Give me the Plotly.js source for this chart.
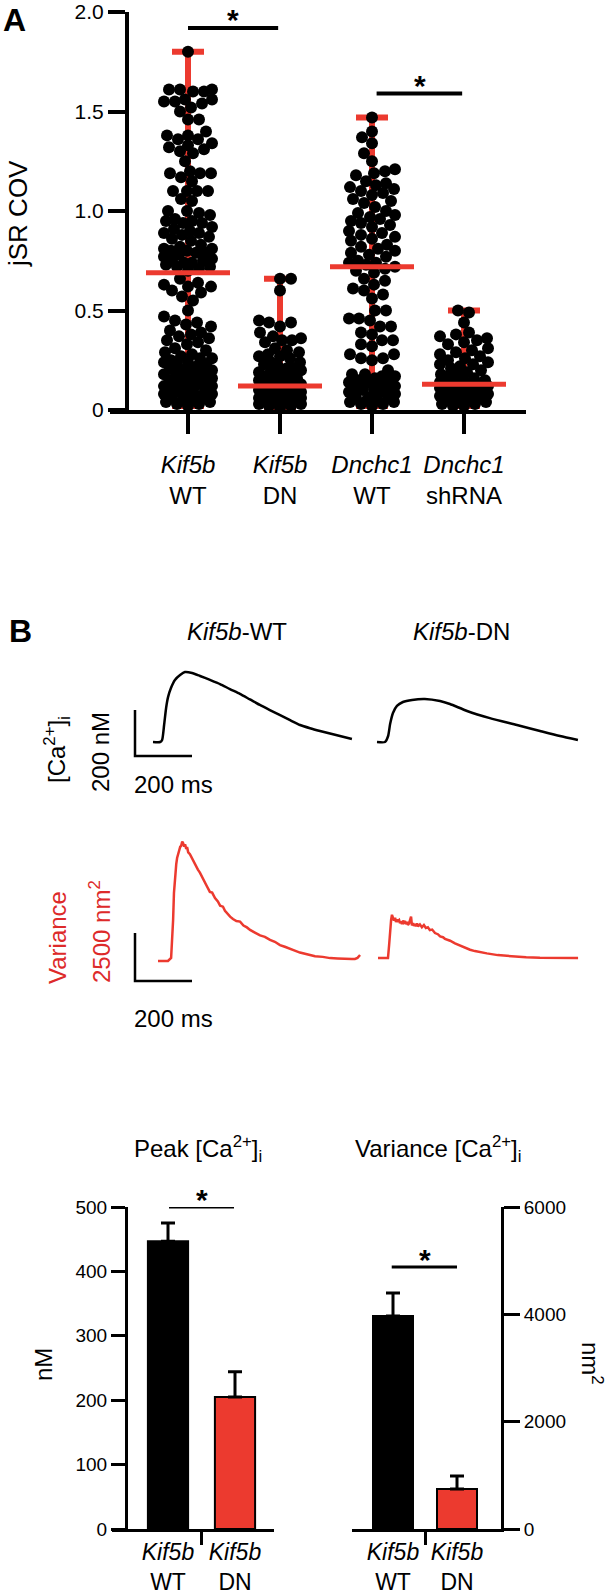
<!DOCTYPE html>
<html>
<head>
<meta charset="utf-8">
<script src="https://cdn.plot.ly/plotly-3.0.1.min.js"></script>
<style>
  html, body { margin: 0; padding: 0; background: #fff; }
  #fig { width: 608px; height: 1596px; }
</style>
</head>
<body>
<div id="fig"></div>
<script>
// ---------- data ----------

// panel A: jSR COV, one value per cell
var groupLabels = ['<i>Kif5b</i><br>WT', '<i>Kif5b</i><br>DN', '<i>Dnchc1</i><br>WT', '<i>Dnchc1</i><br>shRNA'];

var kif5bWT = [1.80,
  1.61, 1.61, 1.60, 1.60, 1.61,
  1.56, 1.55, 1.55, 1.56, 1.54, 1.52, 1.50,
  1.46, 1.46,
  1.40, 1.38, 1.38, 1.36, 1.36, 1.34, 1.33, 1.32, 1.31, 1.30, 1.29,
  1.25, 1.20, 1.19, 1.19, 1.19, 1.17, 1.15,
  1.10, 1.10, 1.10, 1.10, 1.06,
  1.05, 1.00, 1.00, 0.99, 0.98, 0.96, 0.95, 0.95, 0.94, 0.94,
  0.92, 0.91, 0.90, 0.89, 0.89, 0.88, 0.87, 0.86, 0.85,
  0.83, 0.82, 0.81, 0.81, 0.80, 0.80, 0.79, 0.79, 0.78, 0.77,
  0.76, 0.75, 0.75, 0.74, 0.74, 0.73, 0.72, 0.72, 0.71, 0.70,
  0.66, 0.64, 0.63, 0.62, 0.62, 0.60, 0.59, 0.57, 0.55,
  0.50, 0.47, 0.45, 0.44, 0.43, 0.42,
  0.40, 0.39, 0.38, 0.37, 0.36, 0.35, 0.34, 0.33, 0.31, 0.30, 0.29, 0.28,
  0.27, 0.26, 0.26, 0.25, 0.24, 0.24, 0.23, 0.23, 0.22, 0.21, 0.20, 0.20,
  0.19, 0.19, 0.18, 0.18, 0.17, 0.16, 0.16, 0.15, 0.15, 0.14, 0.14, 0.13,
  0.12, 0.12, 0.11, 0.10, 0.10, 0.09, 0.09, 0.08, 0.08, 0.07, 0.07, 0.06,
  0.06, 0.05, 0.05, 0.04, 0.04, 0.03, 0.03, 0.02];

var kif5bDN = [0.66, 0.66, 0.60,
  0.45, 0.44, 0.44, 0.42,
  0.39, 0.37, 0.36, 0.35, 0.35, 0.34,
  0.31, 0.30, 0.29, 0.28, 0.27, 0.27, 0.26,
  0.24, 0.24, 0.23, 0.22, 0.21, 0.21, 0.20, 0.20, 0.19,
  0.18, 0.17, 0.17, 0.16, 0.16, 0.15, 0.15, 0.14, 0.14, 0.13, 0.13,
  0.12, 0.12, 0.12, 0.11, 0.11, 0.10, 0.10, 0.10, 0.09, 0.09, 0.08,
  0.08, 0.08, 0.07, 0.07, 0.06, 0.06, 0.06, 0.05, 0.05, 0.04, 0.04,
  0.03, 0.03, 0.02, 0.02, 0.01];

var dnchc1WT = [1.47, 1.40, 1.37, 1.34, 1.29, 1.25,
  1.21, 1.20, 1.19, 1.18,
  1.15, 1.14, 1.13, 1.12, 1.11, 1.10,
  1.09, 1.08, 1.06, 1.05, 1.04, 1.02,
  1.00, 0.99, 0.98, 0.97, 0.96, 0.95, 0.94, 0.93, 0.92,
  0.90, 0.89, 0.88, 0.87, 0.86, 0.85,
  0.83, 0.82, 0.81, 0.80, 0.79, 0.78, 0.77,
  0.75, 0.74, 0.74, 0.73, 0.72, 0.71, 0.70, 0.69,
  0.66, 0.65, 0.63, 0.61, 0.60, 0.58, 0.56,
  0.50, 0.50, 0.46, 0.46, 0.45,
  0.42, 0.42, 0.39, 0.38, 0.35, 0.35,
  0.33, 0.32, 0.28, 0.28, 0.26, 0.26, 0.25,
  0.20, 0.18, 0.18, 0.17, 0.17, 0.16, 0.15, 0.15, 0.14, 0.14, 0.13,
  0.12, 0.11, 0.11, 0.10, 0.10, 0.09, 0.09, 0.08, 0.07, 0.06, 0.06,
  0.05, 0.05, 0.04, 0.04, 0.03, 0.03, 0.02];

var dnchc1SH = [0.50, 0.49, 0.44,
  0.39, 0.38, 0.37, 0.36, 0.35, 0.34, 0.33,
  0.31, 0.30, 0.29, 0.28, 0.27, 0.26,
  0.25, 0.24, 0.23, 0.23, 0.22, 0.21,
  0.20, 0.19, 0.18, 0.18, 0.17, 0.16, 0.15, 0.15,
  0.14, 0.14, 0.13, 0.13, 0.13, 0.12, 0.12, 0.12, 0.11, 0.11, 0.10,
  0.10, 0.09, 0.09, 0.08, 0.08, 0.07, 0.07,
  0.06, 0.06, 0.05, 0.05, 0.04, 0.04, 0.03, 0.03, 0.02, 0.02];

var medians = [0.69, 0.12, 0.72, 0.13];
var rangeHigh = [1.80, 0.66, 1.47, 0.50];
var rangeLow = [0.02, 0.01, 0.02, 0.02];

// panel B traces: time (ms) and [Ca2+]i rise (nM) / variance (nm^2)
var caWT_t = [0, 25, 32, 39, 46, 53, 63, 77, 95, 112, 137, 165, 200, 235, 270, 305, 340, 375, 410, 446, 481, 516, 551, 586, 621, 656, 698];
var caWT_v = [0, 0, 9, 74, 148, 196, 235, 270, 291, 304, 300, 287, 270, 252, 230, 209, 185, 161, 139, 117, 95, 74, 60, 48, 37, 26, 13];

var caDN_t = [0, 28, 39, 46, 56, 70, 91, 123, 168, 221, 256, 316, 396, 491, 572, 642, 705];
var caDN_v = [0, 0, 26, 78, 126, 157, 174, 183, 187, 178, 165, 135, 104, 74, 48, 26, 9];

var varWT_t = [0, 35, 46, 49, 53, 56, 60, 64, 67, 71, 74, 78, 81, 85, 88, 92, 95, 99, 102, 106,
  112, 118, 123, 128, 133, 140, 147, 154, 160, 165, 172, 182, 190, 200, 210, 218, 228, 235, 245, 253,
  263, 275, 288, 300, 312, 323, 340, 358, 375, 393, 410, 428, 445, 463, 480, 498, 525, 551, 578, 604,
  630, 656, 680, 691, 700, 709];
var varWT_v = [0, 0, 156, 833, 2135, 3541, 4635, 5050, 5364, 5600, 5781, 5950, 5989, 6220, 6145, 5960, 6080, 5840, 5930, 5660,
  5560, 5380, 5300, 5080, 5000, 4760, 4600, 4380, 4250, 4100, 3880, 3600, 3560, 3280, 3100, 2880, 2830, 2620, 2440, 2310,
  2190, 2080, 2050, 1850, 1750, 1620, 1480, 1330, 1260, 1100, 1000, 830, 740, 620, 540, 440, 330, 250, 215, 150,
  130, 100, 100, 104, 160, 312];

var varDN_t = [0, 35, 39, 42, 46, 49, 53, 56, 60, 63, 67, 70, 74, 77, 81, 84, 88, 91, 95, 98,
  102, 105, 109, 112, 116, 119, 123, 126, 130, 133, 137, 140, 147, 154, 161, 168, 175, 182, 190, 200,
  210, 218, 228, 235, 245, 253, 270, 288, 305, 323, 340, 358, 382, 420, 470, 520, 568, 620, 660, 702];
var varDN_v = [0, 0, 677, 1562, 1979, 2250, 2083, 1950, 2100, 1875, 2000, 1930, 1979, 1820, 1900, 1771, 1950, 1850, 1927, 1760,
  1880, 1719, 1800, 1927, 2150, 1700, 1820, 1667, 1771, 1650, 1800, 1640, 1750, 1600, 1720, 1560, 1600, 1450, 1480, 1300,
  1240, 1120, 1080, 1000, 960, 900, 760, 640, 540, 430, 360, 300, 240, 150, 80, 40, 10, 0, 0, 0];

// panel B bars: mean and SEM
var barLabels = ['<i>Kif5b</i><br>WT', '<i>Kif5b</i><br>DN'];
var peakMean = [447, 205];
var peakSem = [28, 39];
var varMean = [3969, 745];
var varSem = [429, 243];

// ---------- helpers ----------
var W = 608, H = 1596;
var RED = '#ec3a2f';
var FONT = 'Liberation Sans, Arial, Helvetica, sans-serif';

function domX(a, b) { return [a / W, b / W]; }
function domY(top, bottom) { return [1 - bottom / H, 1 - top / H]; }

function note(text, px, py, size, extra) {
  var a = {xref: 'paper', yref: 'paper', x: px / W, y: 1 - py / H, text: text,
    showarrow: false, xanchor: 'center', yanchor: 'middle',
    font: {family: FONT, size: size, color: 'black'}};
  for (var k in extra) a[k] = extra[k];
  return a;
}

// beeswarm: pixel offsets so that dots don't pile on each other (capped width)
function swarm(vals, pxPerUnit, dot, maxHalf) {
  var idx = vals.map(function(v, i) { return i; });
  idx.sort(function(a, b) { return vals[a] - vals[b]; });
  var placed = [];
  var offs = new Array(vals.length).fill(0);
  var flip = 1;
  idx.forEach(function(i) {
    var y = vals[i] * pxPerUnit;
    var near = placed.filter(function(p) { return Math.abs(p[1] - y) < dot; });
    var best = 0, bestGap = -1, done = false;
    for (var s = 0; s <= maxHalf && !done; s++) {
      var cands = s === 0 ? [0] : [s * flip, -s * flip];
      for (var c = 0; c < cands.length; c++) {
        var gap = Infinity;
        for (var j = 0; j < near.length; j++) {
          var d = Math.hypot(near[j][0] - cands[c], near[j][1] - y);
          if (d < gap) gap = d;
        }
        if (gap >= dot) { best = cands[c]; done = true; break; }
        if (gap > bestGap) { bestGap = gap; best = cands[c]; }
      }
    }
    offs[i] = best;
    placed.push([best, y]);
    flip = -flip;
  });
  return offs;
}

// ---------- panel A ----------
var catPx = 92;   // px per category step
var yPx = 199;    // px per COV unit
var groups = [kif5bWT, kif5bDN, dnchc1WT, dnchc1SH];
var halfW = [24, 21, 23, 24];

var data = [];

data.push({
  type: 'scatter', mode: 'markers', x: [0, 1, 2, 3], y: medians,
  marker: {size: 1, color: 'rgba(0,0,0,0)'},
  error_y: {type: 'data', symmetric: false,
    array: rangeHigh.map(function(h, i) { return h - medians[i]; }),
    arrayminus: rangeLow.map(function(l, i) { return medians[i] - l; }),
    color: RED, thickness: 6, width: 16},
  cliponaxis: false, hoverinfo: 'skip', xaxis: 'x', yaxis: 'y'
});

groups.forEach(function(g, gi) {
  var offs = swarm(g, yPx, 11, halfW[gi]);
  data.push({
    type: 'scatter', mode: 'markers',
    x: g.map(function(v, i) { return gi + offs[i] / catPx; }), y: g,
    marker: {size: 12, color: 'black'},
    cliponaxis: false, xaxis: 'x', yaxis: 'y'
  });
});

data.push({
  type: 'scatter', mode: 'markers', x: [0, 1, 2, 3], y: medians,
  marker: {symbol: 'line-ew', size: 60, line: {width: 5, color: RED}},
  cliponaxis: false, xaxis: 'x', yaxis: 'y'
});

// ---------- panel B traces ----------
var msPx = 57 / 200;      // px per ms
var nMPx = 46 / 200;      // px per nM
var nm2Px = 48 / 2500;    // px per nm^2

data.push({type: 'scatter', mode: 'lines', x: caWT_t, y: caWT_v, xaxis: 'x2', yaxis: 'y2',
  line: {color: 'black', width: 2.5, shape: 'spline', smoothing: 0.6}});
data.push({type: 'scatter', mode: 'lines', x: caDN_t, y: caDN_v, xaxis: 'x3', yaxis: 'y3',
  line: {color: 'black', width: 2.5, shape: 'spline', smoothing: 0.6}});
data.push({type: 'scatter', mode: 'lines', x: varWT_t, y: varWT_v, xaxis: 'x4', yaxis: 'y4',
  line: {color: RED, width: 2.5}});
data.push({type: 'scatter', mode: 'lines', x: varDN_t, y: varDN_v, xaxis: 'x5', yaxis: 'y5',
  line: {color: RED, width: 2.5}});

// scale bars: 200 ms x 200 nM, 200 ms x 2500 nm^2
var caBarT = -18 / msPx, caBarV = -14 / nMPx;
data.push({type: 'scatter', mode: 'lines', xaxis: 'x2', yaxis: 'y2',
  x: [caBarT, caBarT, caBarT + 200], y: [caBarV + 200, caBarV, caBarV],
  line: {color: 'black', width: 2.5}, cliponaxis: false});
var vaBarT = -23 / msPx, vaBarV = -20 / nm2Px;
data.push({type: 'scatter', mode: 'lines', xaxis: 'x4', yaxis: 'y4',
  x: [vaBarT, vaBarT, vaBarT + 200], y: [vaBarV + 2500, vaBarV, vaBarV],
  line: {color: 'black', width: 2.5}, cliponaxis: false});

// ---------- panel B bars ----------
data.push({type: 'bar', x: [0, 1], y: peakMean, width: 0.6, xaxis: 'x6', yaxis: 'y6',
  marker: {color: ['black', RED], line: {color: 'black', width: 2}},
  error_y: {type: 'data', symmetric: false, array: peakSem, arrayminus: [0, 0],
    color: 'black', thickness: 3, width: 7}});
data.push({type: 'bar', x: [0, 1], y: varMean, width: 0.625, xaxis: 'x7', yaxis: 'y7',
  marker: {color: ['black', RED], line: {color: 'black', width: 2}},
  error_y: {type: 'data', symmetric: false, array: varSem, arrayminus: [0, 0],
    color: 'black', thickness: 3, width: 7}});

function hidden(dom, rng, anchor) {
  return {domain: dom, range: rng, anchor: anchor, visible: false, fixedrange: true};
}

var tickF = function(s) { return {family: FONT, size: s, color: 'black'}; };

var layout = {
  width: W, height: H, showlegend: false,
  margin: {l: 0, r: 0, t: 0, b: 0},
  paper_bgcolor: 'white', plot_bgcolor: 'rgba(0,0,0,0)',
  font: {family: FONT, color: 'black'},

  xaxis: {domain: domX(110, 526), range: [-(188 - 110) / catPx, (526 - 188) / catPx], anchor: 'y',
    showline: true, linewidth: 4, linecolor: 'black', showgrid: false, zeroline: false,
    tickmode: 'array', tickvals: [0, 1, 2, 3], ticktext: groupLabels, ticklabelstandoff: 10,
    ticks: 'outside', ticklen: 20, tickwidth: 4, tickcolor: 'black', tickfont: tickF(24)},
  yaxis: {domain: domY(12, 410), range: [0, 2], anchor: 'free', position: 127 / W,
    showline: true, linewidth: 4, linecolor: 'black', showgrid: false, zeroline: false,
    tickmode: 'array', tickvals: [0, 0.5, 1, 1.5, 2], ticktext: ['0', '0.5', '1.0', '1.5', '2.0'],
    ticks: 'outside', ticklen: 17, tickwidth: 4, tickcolor: 'black', tickfont: tickF(21)},

  xaxis2: hidden(domX(130, 356), [-(153 - 130) / msPx, (356 - 153) / msPx], 'y2'),
  yaxis2: hidden(domY(660, 800), [(742 - 800) / nMPx, (742 - 660) / nMPx], 'x2'),
  xaxis3: hidden(domX(370, 585), [-(377 - 370) / msPx, (585 - 377) / msPx], 'y3'),
  yaxis3: hidden(domY(660, 800), [(742 - 800) / nMPx, (742 - 660) / nMPx], 'x3'),
  xaxis4: hidden(domX(130, 365), [-(158 - 130) / msPx, (365 - 158) / msPx], 'y4'),
  yaxis4: hidden(domY(830, 1000), [(961 - 1000) / nm2Px, (961 - 830) / nm2Px], 'x4'),
  xaxis5: hidden(domX(370, 585), [-(378 - 370) / msPx, (585 - 378) / msPx], 'y5'),
  yaxis5: hidden(domY(830, 1000), [(958 - 1000) / nm2Px, (958 - 830) / nm2Px], 'x5'),

  xaxis6: {domain: domX(112, 274), range: [-(168 - 112) / 67, (274 - 168) / 67], anchor: 'y6',
    showline: true, linewidth: 3, linecolor: 'black', showgrid: false, zeroline: false,
    tickmode: 'array', tickvals: [0, 1], ticktext: barLabels, ticks: '', tickfont: tickF(23),
    minor: {tickmode: 'array', tickvals: [0.5], ticks: 'outside', ticklen: 13, tickwidth: 3, tickcolor: 'black', showgrid: false}},
  yaxis6: {domain: domY(1207, 1529), range: [0, 500], anchor: 'free', position: 126 / W,
    showline: true, linewidth: 3, linecolor: 'black', showgrid: false, zeroline: false,
    tickmode: 'array', tickvals: [0, 100, 200, 300, 400, 500],
    ticks: 'outside', ticklen: 14, tickwidth: 3, tickcolor: 'black', tickfont: tickF(19)},

  xaxis7: {domain: domX(352, 501), range: [-(393 - 352) / 64, (501 - 393) / 64], anchor: 'y7',
    showline: true, linewidth: 3, linecolor: 'black', showgrid: false, zeroline: false,
    tickmode: 'array', tickvals: [0, 1], ticktext: barLabels, ticks: '', tickfont: tickF(23),
    minor: {tickmode: 'array', tickvals: [0.5], ticks: 'outside', ticklen: 13, tickwidth: 3, tickcolor: 'black', showgrid: false}},
  yaxis7: {domain: domY(1207, 1529), range: [0, 6000], anchor: 'x7', side: 'right',
    showline: true, linewidth: 3, linecolor: 'black', showgrid: false, zeroline: false,
    tickmode: 'array', tickvals: [0, 2000, 4000, 6000],
    ticks: 'outside', ticklen: 16, tickwidth: 3, tickcolor: 'black', tickfont: tickF(19)},

  shapes: [
    {type: 'line', xref: 'x', yref: 'y', x0: 0, x1: 0.98, y0: 1.92, y1: 1.92, line: {color: 'black', width: 4}},
    {type: 'line', xref: 'x', yref: 'y', x0: 2.05, x1: 2.98, y0: 1.59, y1: 1.59, line: {color: 'black', width: 4}},
    {type: 'line', xref: 'x6', yref: 'y6', x0: 0.015, x1: 0.985, y0: 500, y1: 500, line: {color: 'black', width: 3}},
    {type: 'line', xref: 'x7', yref: 'y7', x0: -0.02, x1: 1.0, y0: 4882, y1: 4882, line: {color: 'black', width: 3}}
  ],

  annotations: [
    note('<b>A</b>', 14, 20, 32),
    note('jSR COV', 18, 214, 26, {textangle: -90}),
    note('<b>B</b>', 20, 631, 32),
    note('<i>Kif5b</i>-WT', 237, 631, 24),
    note('<i>Kif5b</i>-DN', 462, 631, 24),
    note('[Ca<sup>2+</sup>]<sub>i</sub>', 57, 750, 24, {textangle: -90}),
    note('200 nM', 100, 752, 24, {textangle: -90}),
    note('200 ms', 173, 785, 24),
    note('Variance', 57, 938, 24, {textangle: -90, font: {family: FONT, size: 24, color: '#dd2a2a'}}),
    note('2500 nm<sup>2</sup>', 100, 932, 24, {textangle: -90, font: {family: FONT, size: 24, color: '#dd2a2a'}}),
    note('200 ms', 173, 1018, 24),
    note('Peak [Ca<sup>2+</sup>]<sub>i</sub>', 198, 1149, 24),
    note('Variance [Ca<sup>2+</sup>]<sub>i</sub>', 438, 1149, 24),
    note('nM', 43, 1365, 24, {textangle: -90}),
    note('nm<sup>2</sup>', 592, 1363, 24, {textangle: 90}),
    {xref: 'x', yref: 'y', x: 0.49, y: 1.92, text: '<b>*</b>', showarrow: false, yanchor: 'middle', yshift: 8,
      font: {family: FONT, size: 30, color: 'black'}},
    {xref: 'x', yref: 'y', x: 2.52, y: 1.59, text: '<b>*</b>', showarrow: false, yanchor: 'middle', yshift: 8,
      font: {family: FONT, size: 30, color: 'black'}},
    {xref: 'x6', yref: 'y6', x: 0.5, y: 500, text: '<b>*</b>', showarrow: false, yanchor: 'middle', yshift: 8,
      font: {family: FONT, size: 30, color: 'black'}},
    {xref: 'x7', yref: 'y7', x: 0.5, y: 4882, text: '<b>*</b>', showarrow: false, yanchor: 'middle', yshift: 8,
      font: {family: FONT, size: 30, color: 'black'}}
  ]
};

Plotly.newPlot('fig', data, layout, {displayModeBar: false, staticPlot: true});
</script>
</body>
</html>
